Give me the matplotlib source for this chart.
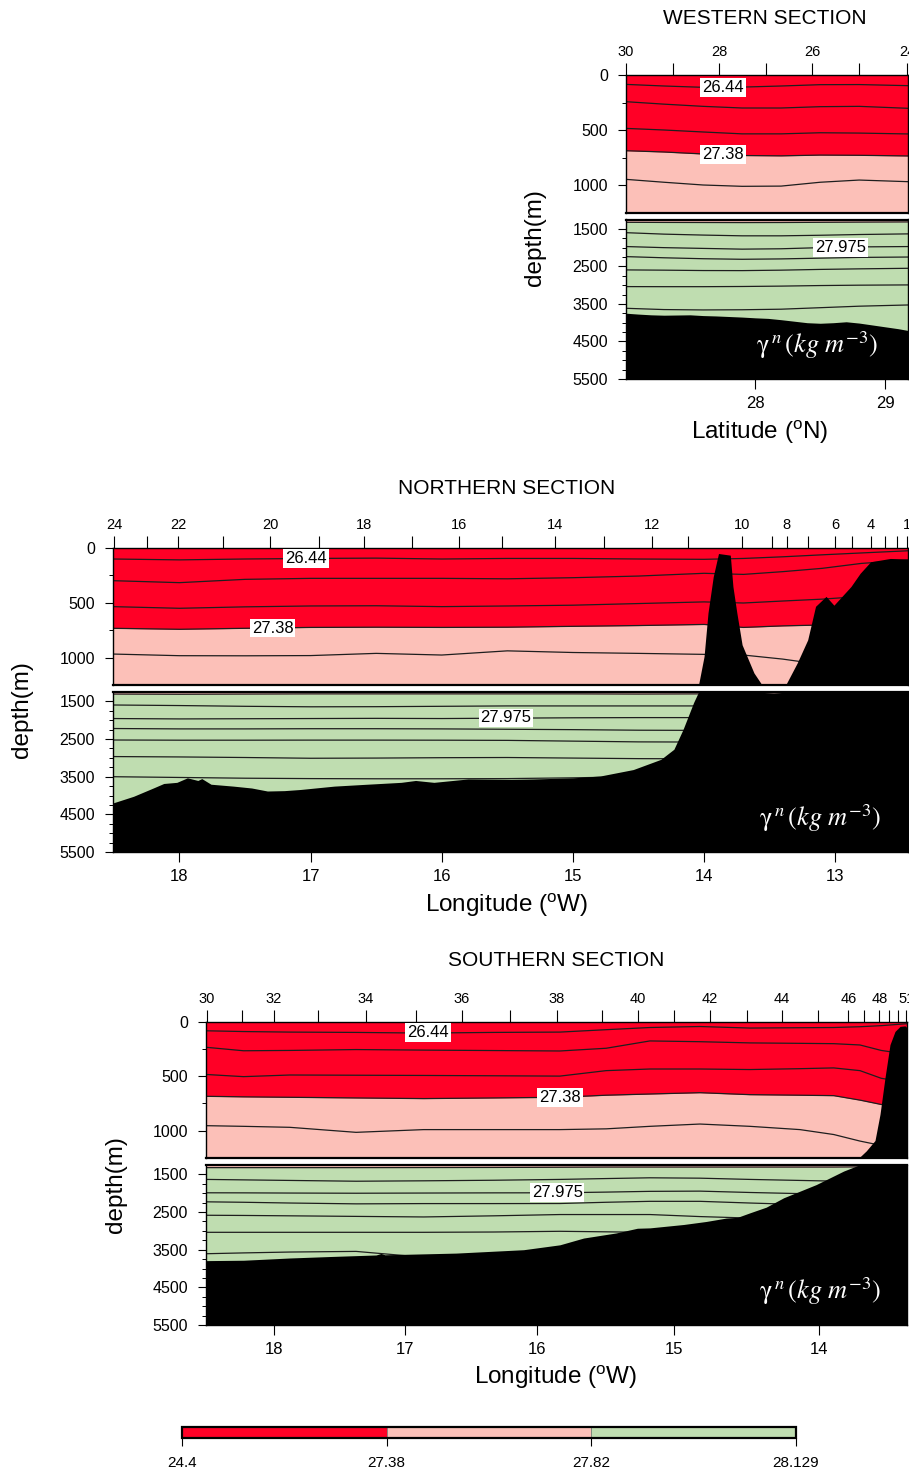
import numpy as np
import matplotlib
matplotlib.use("Agg")
import matplotlib.pyplot as plt
from matplotlib.colors import ListedColormap, BoundaryNorm
from matplotlib.cm import ScalarMappable

plt.rcParams['font.family'] = ['Liberation Sans', 'DejaVu Sans']

W, H = 909, 1472

# neutral density classes (colour bar)
levels = [24.4, 27.38, 27.82, 28.129]
level_labels = ['24.4', '27.38', '27.82', '28.129']
red, pink, green = '#ff0026', '#fcc0b8', '#bfddb0'

# ---------------- WESTERN SECTION (x = latitude N) ----------------
west_stations = [30, 29, 28, 27, 26, 25, 24]
west_station_lat = [27.008, 27.367, 27.723, 28.085, 28.44, 28.80, 29.167]
west_shown = [30, 28, 26, 24]
west_lat_ticks = [28, 29]
west_x = [27.0, 27.3, 27.6, 27.9, 28.2, 28.5, 28.8, 29.18]
west_a = [85, 100, 112, 110, 100, 88, 87, 97]
west_b = [242, 265, 285, 300, 300, 288, 285, 303]
west_c = [485, 500, 518, 535, 535, 525, 528, 536]
west_2738 = [688, 700, 718, 732, 735, 728, 730, 736]
west_e = [948, 975, 1000, 1012, 1010, 975, 955, 970]
west_2782 = [1325, 1328, 1330, 1332, 1330, 1325, 1320, 1315]
west_g = [1600, 1640, 1665, 1685, 1685, 1670, 1650, 1633]
west_27975 = [1970, 2000, 2020, 2040, 2030, 2000, 1980, 1971]
west_i = [2238, 2270, 2295, 2310, 2300, 2280, 2260, 2250]
west_j = [2593, 2600, 2610, 2612, 2600, 2580, 2565, 2550]
west_k = [3038, 3040, 3040, 3035, 3025, 3010, 3000, 2993]
west_l = [3615, 3650, 3660, 3655, 3640, 3600, 3560, 3527]
west_bathy_lat = [27.0, 27.1, 27.2, 27.3, 27.4, 27.5, 27.6, 27.7, 27.8, 27.9, 28.0, 28.1,
                  28.2, 28.3, 28.4, 28.5, 28.6, 28.7, 28.8, 28.9, 29.0, 29.1, 29.18]
west_bathy = [3745, 3770, 3790, 3800, 3795, 3790, 3810, 3820, 3835, 3850, 3870, 3885,
              3920, 3960, 4000, 4015, 4000, 3975, 4010, 4060, 4110, 4160, 4210]

# ---------------- NORTHERN SECTION (x = longitude W) ----------------
north_stations = list(range(24, 0, -1))
north_station_lon = [18.50, 18.25, 18.01, 17.67, 17.31, 16.94, 16.59, 16.23, 15.87, 15.54,
                     15.14, 14.76, 14.40, 14.12, 13.71, 13.48, 13.37, 13.21, 13.00, 12.87,
                     12.73, 12.62, 12.53, 12.45]
north_shown = [24, 22, 20, 18, 16, 14, 12, 10, 8, 6, 4, 1]
north_lon_ticks = [18, 17, 16, 15, 14, 13]
north_x = [18.51, 18.0, 17.5, 17.0, 16.5, 16.0, 15.5, 15.0, 14.5, 14.0, 13.7, 13.4, 13.1, 12.8, 12.44]
north_a = [100, 108, 100, 95, 92, 100, 95, 95, 100, 103, 95, 80, 62, 45, 25]
north_b = [297, 315, 285, 276, 276, 276, 280, 270, 255, 230, 240, 215, 185, 140, 110]
north_c = [533, 548, 535, 527, 525, 533, 527, 520, 505, 490, 500, 482, 465, 440, 420]
north_2738 = [730, 739, 730, 722, 720, 722, 720, 712, 705, 695, 722, 708, 700, 690, 680]
north_e = [964, 979, 980, 978, 958, 973, 935, 950, 958, 967, 973, 1010, 1060, 1060, 1060]
north_2782 = [1305, 1310, 1305, 1300, 1300, 1300, 1300, 1300, 1305, 1300, 1300, 1300, 1295, 1290, 1290]
north_g = [1595, 1610, 1630, 1643, 1640, 1630, 1620, 1620, 1620, 1620, 1620, 1620, 1620, 1620, 1620]
north_27975 = [1955, 1965, 1960, 1955, 1950, 1955, 1945, 1935, 1930, 1930, 1930, 1930, 1930, 1930, 1930]
north_i = [2220, 2230, 2230, 2225, 2225, 2230, 2240, 2250, 2265, 2270, 2270, 2270, 2270, 2270, 2270]
north_j = [2525, 2530, 2530, 2528, 2528, 2530, 2535, 2555, 2575, 2580, 2580, 2580, 2580, 2580, 2580]
north_k = [2965, 2975, 2990, 3010, 3005, 2995, 2990, 3005, 3020, 3025, 3025, 3025, 3025, 3025, 3025]
north_l = [3500, 3520, 3540, 3550, 3555, 3555, 3550, 3530, 3500, 3500, 3500, 3500, 3500, 3500, 3500]
north_bathy_lon = [18.51, 18.35, 18.2, 18.12, 18.02, 17.94, 17.86, 17.83, 17.76, 17.59,
                   17.45, 17.33, 17.2, 17.08, 16.82, 16.57, 16.31, 16.2, 16.06, 15.8,
                   15.47, 15.3, 15.0, 14.79, 14.54, 14.33, 14.23, 14.16, 14.08, 14.04,
                   14.00, 13.97, 13.93, 13.89, 13.80, 13.78, 13.75, 13.71, 13.62, 13.55,
                   13.47, 13.38, 13.29, 13.21, 13.15, 13.07, 13.01, 12.88, 12.81, 12.73,
                   12.58, 12.44]
north_bathy = [4200, 4020, 3800, 3680, 3650, 3530, 3600, 3550, 3700, 3750,
               3800, 3880, 3870, 3840, 3750, 3700, 3650, 3600, 3650, 3560,
               3570, 3560, 3530, 3480, 3310, 3040, 2770, 2240, 1530, 1230,
               985, 590, 260, 50, 65, 350, 590, 880, 1135, 1260,
               1290, 1250, 1045, 835, 530, 440, 520, 350, 230, 125,
               95, 100]

# ---------------- SOUTHERN SECTION (x = distance along section, km) ----------------
south_stations = list(range(30, 52))
south_station_km = [0.6, 28.6, 54.0, 89.8, 127.8, 168.0, 204.6, 243.2, 280.6, 316.6, 345.4,
                    374.4, 403.2, 432.6, 460.6, 489.8, 513.8, 526.6, 538.6, 546.2, 553.4, 560.2]
south_shown = [30, 32, 34, 36, 38, 40, 42, 44, 46, 48, 51]
south_lon_labels = ['18', '17', '16', '15', '14']
south_lon_km = [54.7, 159.2, 264.4, 374.6, 490.2]
south_x = [0, 30, 67, 120, 174, 230, 283, 320, 355, 395, 435, 475, 502, 523, 540, 561]
south_a = [85, 92, 97, 100, 106, 100, 97, 75, 55, 46, 60, 57, 55, 48, 38, 20]
south_b = [236, 268, 265, 257, 262, 266, 270, 245, 178, 185, 196, 200, 203, 215, 265, 300]
south_c = [485, 505, 490, 492, 494, 497, 500, 450, 435, 435, 440, 432, 425, 450, 520, 560]
south_2738 = [685, 690, 694, 700, 706, 700, 694, 675, 664, 652, 670, 675, 679, 720, 760, 780]
south_e = [954, 960, 969, 1015, 990, 990, 990, 983, 960, 939, 960, 990, 1035, 1095, 1135, 1150]
south_2782 = [1320, 1320, 1320, 1320, 1318, 1315, 1310, 1305, 1305, 1305, 1305, 1305, 1305, 1300, 1300, 1300]
south_g = [1633, 1645, 1660, 1681, 1670, 1655, 1633, 1610, 1590, 1600, 1633, 1660, 1678, 1690, 1700, 1700]
south_27975 = [1988, 1990, 1995, 2000, 1995, 1990, 1988, 1970, 1950, 1944, 1980, 2010, 2033, 2040, 2040, 2040]
south_i = [2228, 2240, 2260, 2282, 2275, 2275, 2273, 2240, 2215, 2215, 2260, 2300, 2310, 2310, 2310, 2310]
south_j = [2585, 2590, 2600, 2615, 2630, 2600, 2566, 2566, 2566, 2620, 2660, 2660, 2660, 2660, 2660, 2660]
south_k = [3038, 3038, 3038, 3038, 3038, 3030, 3011, 3025, 3040, 3040, 3040, 3040, 3040, 3040, 3040, 3040]
south_l = [3607, 3585, 3562, 3545, 3700, 3700, 3700, 3700, 3700, 3700, 3700, 3700, 3700, 3700, 3700, 3700]
south_bathy_km = [0, 30, 67, 100, 136, 140, 143, 200, 254, 283, 302, 328, 345, 355, 382, 400, 416,
                  425, 435, 448, 462, 488, 510, 520, 522, 528, 535, 539, 543, 547, 551, 555, 559, 561]
south_bathy = [3790, 3780, 3720, 3680, 3640, 3600, 3635, 3590, 3500, 3370, 3190, 3055, 2930, 2920,
               2830, 2750, 2660, 2640, 2520, 2370, 2120, 1770, 1410, 1280, 1250, 1185, 1090, 850,
               515, 212, 91, 45, 40, 60]

fig = plt.figure(figsize=(W / 100, H / 100), dpi=100)


def px_axes(x0, y0, x1, y1):
    return fig.add_axes([x0 / W, 1 - y1 / H, (x1 - x0) / W, (y1 - y0) / H])


def ftext(x, y, s, **kw):
    fig.text(x / W, 1 - y / H, s, ha='center', va='center', **kw)


def section(box, x, iso, iso_2738, iso_2782, bx, bz, xlim, st_pos, st_num, st_shown,
            bot_pos, bot_lab, clabels, gamma_x):
    x0, x1, yu0, yu1, yl0, yl1 = box
    up = px_axes(x0, yu0, x1, yu1)
    lo = px_axes(x0, yl0, x1, yl1)
    for ax in (up, lo):
        ax.set_facecolor(green)
        ax.fill_between(x, 0, iso_2782, color=pink, lw=0, zorder=1)
        ax.fill_between(x, 0, iso_2738, color=red, lw=0, zorder=1)
        for z in iso:
            ax.plot(x, z, color='#1e1e1e', lw=0.9, zorder=2)
        ax.fill_between(bx, bz, 6000, color='black', lw=0, zorder=3)
        ax.set_xlim(xlim)
        for sp in ax.spines.values():
            sp.set_linewidth(1.0)
        ax.tick_params(axis='y', which='major', direction='out', length=6, width=0.8,
                       labelsize=11.5, pad=7, right=False)
        ax.tick_params(axis='y', which='minor', direction='out', length=3, width=0.7, right=False)
    up.spines['bottom'].set_linewidth(1.6)
    lo.spines['top'].set_linewidth(1.6)
    up.set_ylim(1250, 0)
    lo.set_ylim(5500, 1250)
    up.set_yticks([0, 500, 1000])
    up.set_yticks([250, 750], minor=True)
    lo.set_yticks([1500, 2500, 3500, 4500, 5500])
    lo.set_yticks(np.arange(1500, 5500, 250), minor=True)

    up.set_xticks(st_pos, [str(n) if n in st_shown else '' for n in st_num])
    up.tick_params(axis='x', direction='out', length=9, width=0.8, labelsize=10.5, pad=2.5,
                   top=True, bottom=False, labeltop=True, labelbottom=False)
    lo.set_xticks(bot_pos, bot_lab)
    lo.tick_params(axis='x', direction='out', length=7, width=0.8, labelsize=12, pad=5,
                   top=False)

    for txt, cx, cd in clabels:
        ax = up if cd < 1250 else lo
        ax.text(cx, cd, txt, ha='center', va='center', fontsize=12, zorder=4,
                bbox=dict(facecolor='white', edgecolor='none', pad=1.3))

    lo.text(gamma_x, 0.21, r'$\mathrm{\gamma}^{\,n}\,(kg\ m^{-3})$', transform=lo.transAxes,
            ha='right', va='center', color='white', fontsize=19, math_fontfamily='stix',
            zorder=5)
    return up, lo


# western
section((626, 908, 75, 212.5, 219.5, 379),
        west_x, [west_a, west_b, west_c, west_2738, west_e, west_2782, west_g, west_27975,
                 west_i, west_j, west_k, west_l],
        west_2738, west_2782, west_bathy_lat, west_bathy, (27.008, 29.175),
        west_station_lat, west_stations, west_shown,
        west_lat_ticks, ['28', '29'],
        [('26.44', 27.754, 112), ('27.38', 27.754, 725), ('27.975', 28.654, 2000)], 0.895)
ftext(765, 18, 'WESTERN SECTION', fontsize=15)
ftext(535, 238, 'depth(m)', fontsize=17.5, rotation=90)
ftext(760, 432, r'Latitude ($\mathregular{^o}$N)', fontsize=17.5)

# northern
section((113, 908, 548, 685.5, 692, 852),
        north_x, [north_a, north_b, north_c, north_2738, north_e, north_2782, north_g,
                  north_27975, north_i, north_j, north_k, north_l],
        north_2738, north_2782, north_bathy_lon, north_bathy, (18.507, 12.445),
        north_station_lon, north_stations, north_shown,
        north_lon_ticks, [str(v) for v in north_lon_ticks],
        [('26.44', 17.035, 94), ('27.38', 17.29, 728), ('27.975', 15.51, 1940)], 0.966)
ftext(507, 488, 'NORTHERN SECTION', fontsize=15)
ftext(22, 710, 'depth(m)', fontsize=17.5, rotation=90)
ftext(507, 905, r'Longitude ($\mathregular{^o}$W)', fontsize=17.5)

# southern
section((206, 907, 1021.5, 1158, 1165, 1325),
        south_x, [south_a, south_b, south_c, south_2738, south_e, south_2782, south_g,
                  south_27975, south_i, south_j, south_k, south_l],
        south_2738, south_2782, south_bathy_km, south_bathy, (0, 560.6),
        south_station_km, south_stations, south_shown,
        south_lon_km, south_lon_labels,
        [('26.44', 177.6, 103), ('27.38', 283.2, 694), ('27.975', 280.8, 1980)], 0.963)
ftext(556, 961, 'SOUTHERN SECTION', fontsize=15)
ftext(116, 1185, 'depth(m)', fontsize=17.5, rotation=90)
ftext(556, 1377, r'Longitude ($\mathregular{^o}$W)', fontsize=17.5)

# colour bar
cax = px_axes(182, 1427, 796, 1438)
cmap = ListedColormap([red, pink, green])
norm = BoundaryNorm(levels, cmap.N)
cb = fig.colorbar(ScalarMappable(norm=norm, cmap=cmap), cax=cax, orientation='horizontal',
                  spacing='uniform', ticks=levels, drawedges=True)
cb.set_ticklabels(level_labels)
cb.outline.set_linewidth(1.6)
cb.dividers.set_linewidth(0.5)
cb.dividers.set_color('#666666')
cax.tick_params(length=6, width=0.8, labelsize=11, pad=7)

fig.savefig('out.png', dpi=100)
